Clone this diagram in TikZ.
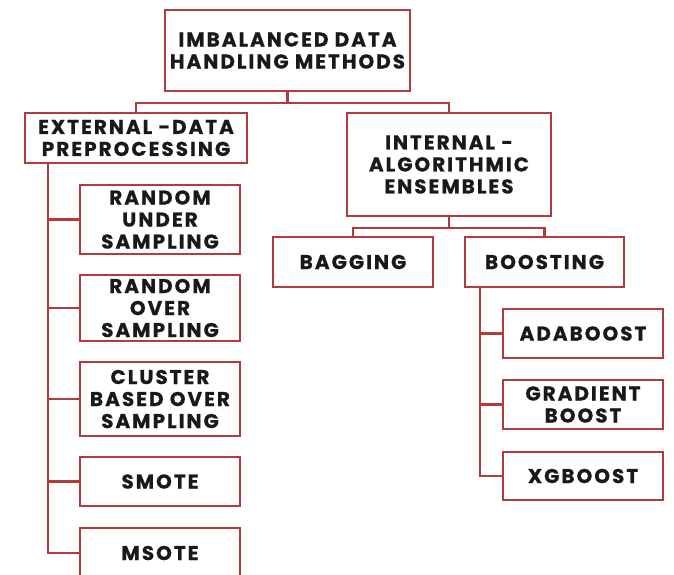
\documentclass[tikz,border=0pt]{standalone}
\usepackage{fontspec}
\usetikzlibrary{calc}
\setmainfont{Poppins}[BoldFont=* Bold, BoldFeatures={FakeBold=0.6}, LetterSpace=10]
\begin{document}
\begin{tikzpicture}[x=1pt,y=-1pt,
  box/.style={draw=boxred, line width=2.4pt, fill=white, align=center,
    font=\bfseries\fontsize{20}{22}\selectfont, text=black!90, inner sep=0pt},
  link/.style={draw=boxred, line width=2.4pt}]
\definecolor{boxred}{HTML}{B23C3C}
\useasboundingbox (0,0) rectangle (674,575);
\clip (0,0) rectangle (674,575);
% boxes placed by their corners: \mkbox{name}{x1}{y1}{x2}{y2}{text}
\newcommand\mkbox[6]{%
  \node[box, minimum width=#4-#2, minimum height=#5-#3] (#1) at ({(#2+#4)/2},{(#3+#5)/2}) {#6};}
\mkbox{top}{165}{10}{410}{91}{IMBALANCED DATA\\HANDLING METHODS}
\mkbox{ext}{25}{113}{247}{163}{EXTERNAL -DATA\\PREPROCESSING}
\mkbox{int}{347}{113}{551}{216}{INTERNAL -\\ALGORITHMIC\\ENSEMBLES}
\mkbox{rus}{80}{185}{240}{254}{RANDOM\\UNDER\\SAMPLING}
\mkbox{ros}{80}{275}{240}{341}{RANDOM\\OVER\\SAMPLING}
\mkbox{cbos}{80}{362}{240}{436}{CLUSTER\\BASED OVER\\SAMPLING}
\mkbox{smote}{80}{457}{240}{506}{SMOTE}
\mkbox{msote}{80}{528}{240}{578}{MSOTE}
\mkbox{bag}{273}{237}{433}{287}{BAGGING}
\mkbox{boost}{465}{237}{624}{287}{BOOSTING}
\mkbox{ada}{503}{309}{663}{358}{ADABOOST}
\mkbox{grad}{503}{380}{663}{429}{GRADIENT\\BOOST}
\mkbox{xgb}{503}{452}{663}{500}{XGBOOST}
% root split
\coordinate (rj) at ($(top.south)+(0,11)$);
\draw[link] (top.south) -- (rj);
\draw[link] (ext.north) |- (rj) -| (int.north);
% external trunk
\coordinate (et) at (48,163);
\draw[link] (et) |- (msote.west);
\foreach \b in {rus,ros,cbos,smote}{\draw[link] (et |- \b.west) -- (\b.west);}
% internal split
\coordinate (ij) at ($(int.south)+(0,11)$);
\draw[link] (int.south) -- (ij);
\draw[link] (bag.north) |- (ij) -| (boost.north);
% boosting trunk
\coordinate (bt) at (480,287);
\draw[link] (bt) |- (xgb.west);
\foreach \b in {ada,grad}{\draw[link] (bt |- \b.west) -- (\b.west);}
\end{tikzpicture}
\end{document}
